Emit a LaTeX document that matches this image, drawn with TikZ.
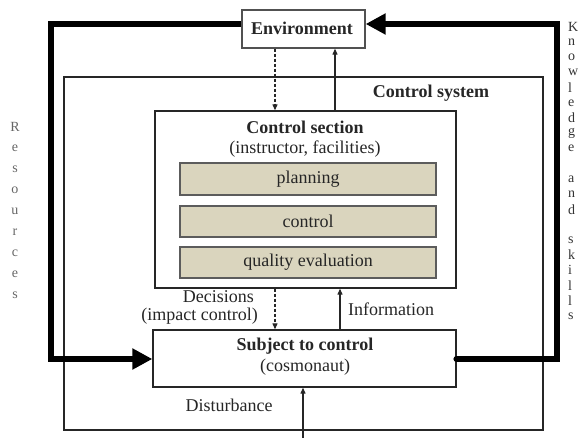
\documentclass[tikz,border=0pt]{standalone}
\usepackage{fontspec}
\setmainfont{Liberation Serif}
\usetikzlibrary{arrows.meta}
\definecolor{boxfill}{HTML}{DAD5BE}
\definecolor{ink}{HTML}{262626}
\tikzset{
  lbl/.style={inner sep=0pt, text=ink, font=\fontsize{18}{21}\selectfont},
  blbl/.style={lbl, font=\fontsize{18}{21}\selectfont\bfseries},
  frame/.style={draw=ink, line width=1.3pt, inner sep=0pt},
  task/.style={draw=ink!75, line width=1.5pt, fill=boxfill, inner sep=0pt, minimum width=256pt, text=ink, font=\fontsize{18}{21}\selectfont},
  flow/.style={draw=ink, line width=1.1pt, -{Triangle[length=6pt,width=5pt]}},
  dflow/.style={flow, dash pattern=on 3pt off 2pt},
  big/.style={draw=black, line width=6.5pt, -{Triangle[length=20pt,width=20pt]}},
  side/.style={inner sep=0pt, font=\fontsize{14}{16}\selectfont},
}
\begin{document}
\begin{tikzpicture}[x=1pt,y=-1pt]
\useasboundingbox (0,0) rectangle (586,438);
% boxes
\node[frame, draw=ink!80, minimum width=123pt, minimum height=38pt] (env) at (303.5,29) {};
\node[blbl] (envt) at (302,28) {Environment};
\node[frame, minimum width=479pt, minimum height=353pt] (csys) at (303.5,253.5) {};
\node[blbl] (csyst) at (431,93) {Control system};
\node[frame, minimum width=301pt, minimum height=177pt] (cs) at (305.5,199.5) {};
\node[blbl] (cst) at (305,127) {Control section};
\node[lbl] (csst) at (305,149) {(instructor, facilities)};
\node[task, minimum height=32pt] (plan) at (308,179) {planning};
\node[task, minimum height=31pt] (ctrl) at (308,221.5) {control};
\node[task, minimum height=31pt] (qual) at (308,262.5) {quality evaluation};
\node[frame, minimum width=303pt, minimum height=57pt] (subj) at (304.5,358.5) {};
\node[blbl] (subjt) at (305,346) {Subject to control};
\node[lbl] (subjst) at (305,367) {(cosmonaut)};
% labels
\node[lbl, anchor=east] (dec1) at (254,297) {Decisions};
\node[lbl, anchor=east] (dec2) at (258,316) {(impact control)};
\node[lbl, anchor=west] (info) at (348,309) {Information};
\node[lbl] (dist) at (229,405) {Disturbance};
% thin connectors
\coordinate (xa) at (275,0);
\coordinate (xb) at (335,0);
\coordinate (xc) at (340,0);
\coordinate (xd) at (303,438);
\draw[dflow] (env.south -| xa) -- (cs.north -| xa);
\draw[flow] (cs.north -| xb) -- (env.south -| xb);
\draw[dflow] (cs.south -| xa) -- (subj.north -| xa);
\draw[flow] (subj.north -| xc) -- (cs.south -| xc);
\draw[flow] (xd) -- (subj.south -| xd);
% thick resource loop
\coordinate (tl) at (51,24);
\coordinate (tr) at (557,24);
\coordinate (bl) at (51,359);
\coordinate (br) at (557,359);
\draw[big, line join=miter] (env.west |- tl) -- (tl) -- (bl) -- (subj.west |- bl);
\draw[big, line join=miter, line cap=round] (subj.east |- br) -- (br) -- (tr) -- (env.east |- tr);
% side texts
\foreach \c [count=\i from 0] in {R,e,s,o,u,r,c,e,s}
  \node[side, text=black!60] (res\i) at (15,127+21*\i) {\c};
\foreach \c/\k in {K/0,n/1,o/2,w/3,l/4,e/5,d/6,g/7,e/8,a/10,n/11,d/12,s/14,k/15,i/16,l/17,l/18,s/19}
  \node[side, text=black!80, anchor=west] (kn\k) at (568,27+15.2*\k) {\c};
\end{tikzpicture}
\end{document}
